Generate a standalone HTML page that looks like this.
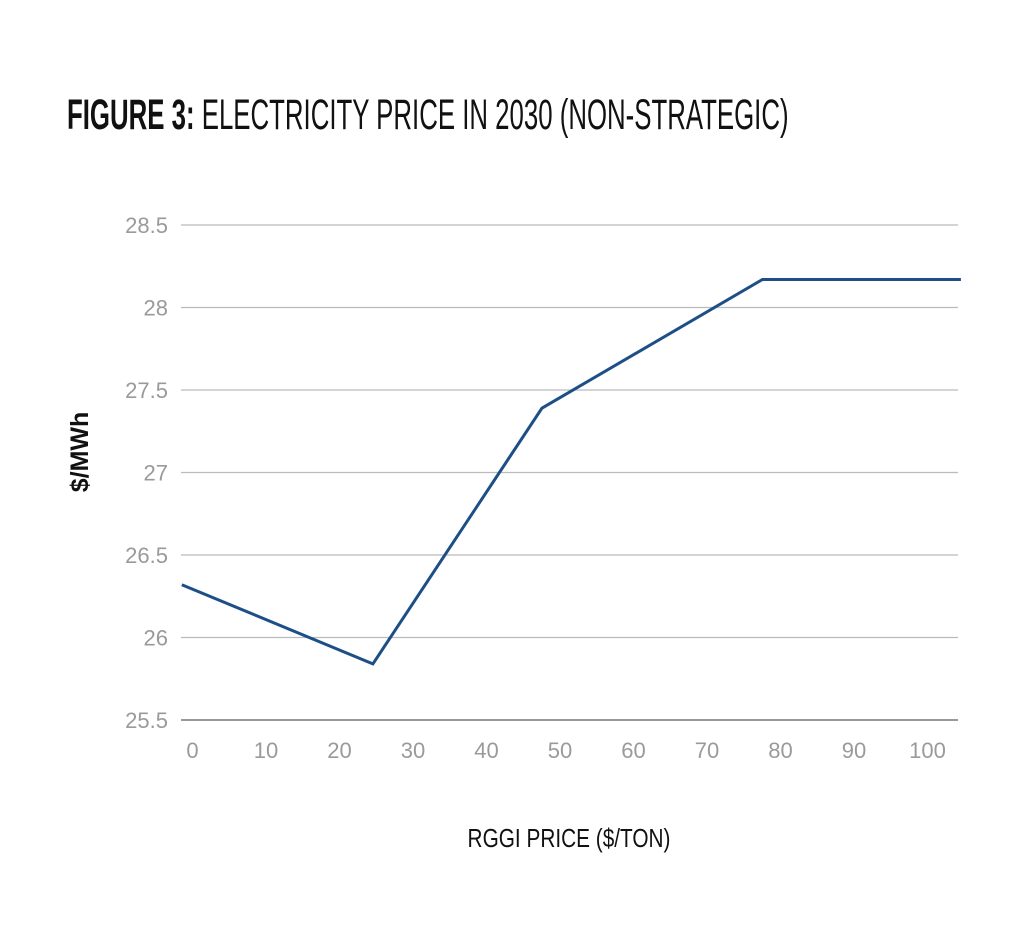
<!DOCTYPE html>
<html><head><meta charset="utf-8"><style>
html,body{margin:0;padding:0;background:#fff;}
body{width:1024px;height:931px;position:relative;overflow:hidden;font-family:"Liberation Sans Narrow","Liberation Sans",sans-serif;}
#title{position:absolute;left:67px;top:91px;font-size:43px;color:#111;white-space:nowrap;transform-origin:0 0;transform:scaleX(0.6);font-weight:normal;}
#title b{font-weight:bold;}
svg{position:absolute;left:0;top:0;}
</style></head><body>
<div id="title"><b>FIGURE 3:</b> ELECTRICITY PRICE IN 2030 (NON-STRATEGIC)</div>
<svg id="chart" width="1024" height="931"></svg>
<script>
const yTicks=[25.5,26,26.5,27,27.5,28,28.5];
const yTickLabels=["25.5","26","26.5","27","27.5","28","28.5"];
const xTicks=[0,10,20,30,40,50,60,70,80,90,100];
const xTickLabels=["0","10","20","30","40","50","60","70","80","90","100"];
const xValues=[-2,24,47,77,104];
const yValues=[26.32,25.84,27.39,28.17,28.17];

const NS="http://www.w3.org/2000/svg";
const svg=document.getElementById('chart');
const X=v=>196.5+v*7.35;
const Y=v=>720-(v-25.5)*165;
function mk(t,a){const e=document.createElementNS(NS,t);for(const k in a)e.setAttribute(k,a[k]);svg.appendChild(e);return e;}
yTicks.forEach((v,i)=>{
 const l=mk('line',{x1:181,x2:958,y1:Y(v),y2:Y(v),stroke:i==0?'#999':'#bbb','stroke-width':i==0?2:1.3});
 
 
 const t=mk('text',{x:168,y:Y(v)+8,'text-anchor':'end','font-size':22,fill:'#9a9a9a','font-family':'Liberation Sans, sans-serif'});
 t.textContent=yTickLabels[i];
 
 
});
xTicks.forEach((v,i)=>{
 const t=mk('text',{x:X(v)-4,y:758,'text-anchor':'middle','font-size':22,fill:'#9a9a9a','font-family':'Liberation Sans, sans-serif'});
 t.textContent=xTickLabels[i];
 
 
});
const p=mk('polyline',{points:xValues.map((x,i)=>X(x)+','+Y(yValues[i])).join(' '),fill:'none',stroke:'#1d4f86','stroke-width':3,'stroke-linejoin':'miter'});


const xt=mk('text',{x:0,y:0,'text-anchor':'middle','font-size':26,fill:'#111',transform:'translate(569,847) scale(0.8,1)','font-family':'Liberation Sans, sans-serif'});
xt.textContent='RGGI PRICE ($/TON)';


const yt=mk('text',{x:0,y:0,'text-anchor':'middle','font-size':25,'font-weight':'bold',fill:'#111',transform:'translate(88,452) rotate(-90)','font-family':'Liberation Sans Narrow, Liberation Sans, sans-serif'});
yt.textContent='$/MWh';


</script>
</body></html>
